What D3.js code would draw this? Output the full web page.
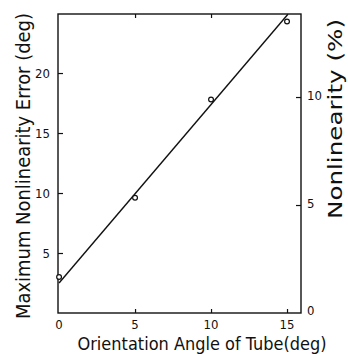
<!DOCTYPE html>
<html>
<head>
<meta charset="utf-8">
<script src="https://cdn.jsdelivr.net/npm/d3@7"></script>
<style>
body { margin: 0; background: #fff; }
text { font-family: "DejaVu Sans Condensed", "DejaVu Sans", sans-serif; fill: #111; }
</style>
</head>
<body>
<div id="chart"></div>
<script>
// measured points: orientation angle (deg) vs max nonlinearity error (deg)
var angles = [0, 5, 10, 15];
var errors = [3.0, 9.6, 17.8, 24.3];
// fitted straight line, two ends
var fitAngles = [0, 15.06];
var fitErrors = [2.5, 24.9];
var xTicks = [0, 5, 10, 15];
var yTicks = [5, 10, 15, 20];
var pctTicks = [0, 5, 10];

var width = 348, height = 354;
var plotLeft = 58, plotRight = 301, plotTop = 14, plotBottom = 313;

var svg = d3.select("#chart")
    .append("svg")
    .attr("width", width)
    .attr("height", height);

var x = d3.scaleLinear()
    .domain([-0.07, 15.92])
    .range([plotLeft, plotRight]);

var y = d3.scaleLinear()
    .domain([0, 24.92])
    .range([plotBottom, plotTop]);

// right axis: percent of 180 deg full scale
var y2 = d3.scaleLinear()
    .domain([0, 24.92 * 100 / 180])
    .range([plotBottom, plotTop]);

// frame
svg.append("rect")
    .attr("x", plotLeft)
    .attr("y", plotTop)
    .attr("width", plotRight - plotLeft)
    .attr("height", plotBottom - plotTop)
    .attr("fill", "none")
    .attr("stroke", "#111")
    .attr("stroke-width", 1.4);

// bottom axis ticks (inward)
var xAxis = svg.append("g")
    .attr("transform", "translate(0," + plotBottom + ")")
    .call(d3.axisTop(x).tickValues(xTicks.slice(1)).tickSize(4).tickFormat(""));
xAxis.select(".domain").remove();

var xTop = svg.append("g")
    .attr("transform", "translate(0," + plotTop + ")")
    .call(d3.axisBottom(x).tickValues([5, 10]).tickSize(4).tickFormat(""));
xTop.select(".domain").remove();

svg.selectAll(".xlab")
    .data(xTicks)
    .enter()
    .append("text")
    .attr("class", "xlab")
    .attr("x", function(d) { return x(d); })
    .attr("y", 329)
    .attr("text-anchor", "middle")
    .style("font-size", "13px")
    .text(function(d) { return d; });

// left axis
var yAxis = svg.append("g")
    .attr("transform", "translate(" + plotLeft + ",0)")
    .call(d3.axisRight(y).tickValues(yTicks).tickSize(5).tickFormat(""));
yAxis.select(".domain").remove();

svg.selectAll(".ylab")
    .data(yTicks)
    .enter()
    .append("text")
    .attr("class", "ylab")
    .attr("x", 50)
    .attr("y", function(d) { return y(d) + 5; })
    .attr("text-anchor", "end")
    .style("font-size", "13px")
    .text(function(d) { return d; });

// right axis
var y2Axis = svg.append("g")
    .attr("transform", "translate(" + plotRight + ",0)")
    .call(d3.axisLeft(y2).tickValues(pctTicks.slice(1)).tickSize(5).tickFormat(""));
y2Axis.select(".domain").remove();

svg.selectAll(".y2lab")
    .data(pctTicks)
    .enter()
    .append("text")
    .attr("class", "y2lab")
    .attr("x", 307)
    .attr("y", function(d) { return y2(d) + 3 - (d == 0 ? 1 : 0); })
    .attr("text-anchor", "start")
    .style("font-size", "13px")
    .text(function(d) { return d; });

svg.selectAll(".tick line").attr("stroke", "#111").attr("stroke-width", 1.2);

// fitted line
var line = d3.line()
    .x(function(d) { return x(d[0]); })
    .y(function(d) { return y(d[1]); });

svg.append("path")
    .datum(d3.zip(fitAngles, fitErrors))
    .attr("d", line)
    .attr("fill", "none")
    .attr("stroke", "#111")
    .attr("stroke-width", 1.4);

// measured points
svg.append("g")
    .selectAll("circle")
    .data(d3.zip(angles, errors))
    .enter()
    .append("circle")
    .attr("cx", function(d) { return x(d[0]); })
    .attr("cy", function(d) { return y(d[1]); })
    .attr("r", 2.4)
    .attr("fill", "#fff")
    .attr("stroke", "#111")
    .attr("stroke-width", 1.2);

// axis titles
svg.append("text")
    .attr("transform", "translate(30,166) rotate(-90)")
    .attr("text-anchor", "middle")
    .attr("textLength", 306)
    .attr("lengthAdjust", "spacingAndGlyphs")
    .style("font-size", "20px")
    .text("Maximum Nonlinearity Error (deg)");

svg.append("text")
    .attr("x", 202)
    .attr("y", 350)
    .attr("text-anchor", "middle")
    .attr("textLength", 249)
    .attr("lengthAdjust", "spacingAndGlyphs")
    .style("font-size", "18px")
    .text("Orientation Angle of Tube(deg)");

svg.append("text")
    .attr("transform", "translate(342,119) rotate(-90)")
    .attr("text-anchor", "middle")
    .attr("textLength", 200)
    .attr("lengthAdjust", "spacingAndGlyphs")
    .style("font-size", "19px")
    .text("Nonlinearity (%)");
</script>
</body>
</html>
